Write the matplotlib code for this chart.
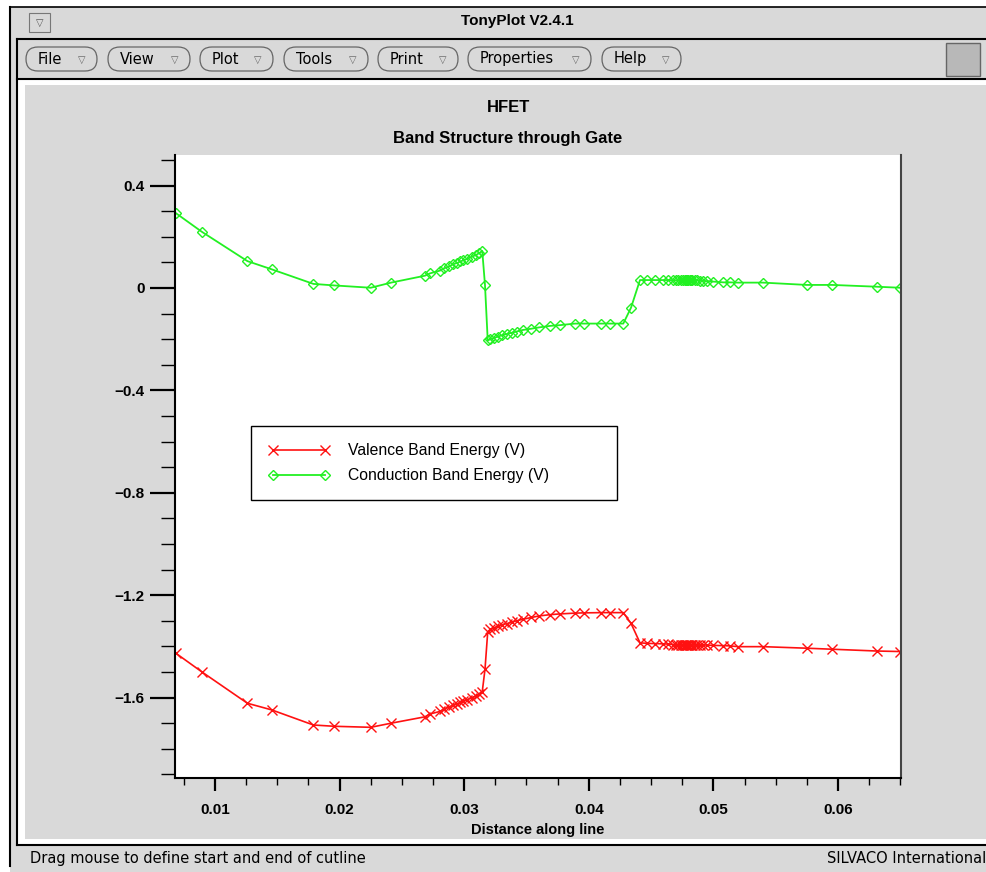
import matplotlib
matplotlib.use("Agg")
import matplotlib.pyplot as plt
from matplotlib.patches import Rectangle, FancyBboxPatch
from matplotlib.ticker import MultipleLocator

# distance along the cutline (same grid for both bands)
distance = [0.00687, 0.00893, 0.0126, 0.01455, 0.0179, 0.01957, 0.0225, 0.02413,
            0.02685, 0.02725, 0.02806, 0.02838, 0.0288, 0.02913, 0.02945, 0.0297,
            0.02993, 0.03025, 0.0306, 0.03095, 0.0312, 0.03145, 0.03167, 0.03189,
            0.0321, 0.0324, 0.0327, 0.0330, 0.0334, 0.0338, 0.0342, 0.0347,
            0.0354, 0.0360, 0.0369, 0.0377, 0.0389, 0.0396, 0.0410, 0.0417,
            0.04277, 0.04339, 0.04411, 0.04465, 0.04531, 0.04598, 0.04638,
            0.0468, 0.0470, 0.0472, 0.0474, 0.0476, 0.0477, 0.0478, 0.0479,
            0.0480, 0.0481, 0.0482, 0.0483, 0.0485, 0.0487, 0.0489, 0.0492,
            0.04946, 0.0500, 0.0508, 0.05133, 0.0520, 0.0540, 0.05749, 0.05954,
            0.06311, 0.06498]

conduction = [0.292, 0.220, 0.105, 0.073, 0.016, 0.010, 0.001, 0.021,
              0.048, 0.057, 0.068, 0.077, 0.085, 0.093, 0.098, 0.104,
              0.108, 0.114, 0.122, 0.129, 0.136, 0.145, 0.012, -0.205,
              -0.200, -0.195, -0.190, -0.185, -0.180, -0.175, -0.170, -0.164,
              -0.159, -0.154, -0.148, -0.145, -0.139, -0.139, -0.139, -0.139,
              -0.139, -0.077, 0.031, 0.031, 0.031, 0.031, 0.031,
              0.030, 0.030, 0.030, 0.030, 0.030, 0.030, 0.030, 0.030,
              0.030, 0.030, 0.030, 0.030, 0.030, 0.030, 0.029, 0.028,
              0.027, 0.025, 0.022, 0.022, 0.021, 0.021, 0.012, 0.012,
              0.005, 0.001]

valence = [-1.427, -1.499, -1.622, -1.648, -1.707, -1.712, -1.716, -1.700,
           -1.675, -1.664, -1.654, -1.645, -1.637, -1.629, -1.624, -1.618,
           -1.614, -1.608, -1.600, -1.593, -1.586, -1.577, -1.490, -1.343,
           -1.333, -1.327, -1.322, -1.317, -1.311, -1.306, -1.300, -1.294,
           -1.287, -1.281, -1.276, -1.273, -1.270, -1.269, -1.268, -1.268,
           -1.268, -1.310, -1.386, -1.388, -1.389, -1.390, -1.391,
           -1.393, -1.393, -1.393, -1.393, -1.393, -1.393, -1.393, -1.393,
           -1.393, -1.393, -1.393, -1.393, -1.393, -1.393, -1.394, -1.394,
           -1.395, -1.396, -1.397, -1.398, -1.401, -1.401, -1.407, -1.411,
           -1.418, -1.420]

x_ticks = [0.01, 0.02, 0.03, 0.04, 0.05, 0.06]
x_tick_labels = ["0.01", "0.02", "0.03", "0.04", "0.05", "0.06"]
y_ticks = [0.4, 0.0, -0.4, -0.8, -1.2, -1.6]
y_tick_labels = ["0.4", "0", "\u22120.4", "\u22120.8", "\u22121.2", "\u22121.6"]

menus = ["File", "View", "Plot", "Tools", "Print", "Properties", "Help"]
menu_x = [(26, 97), (108, 190), (200, 273), (284, 368), (378, 458), (468, 591), (602, 681)]

GRAY = "#d9d9d9"
W, H = 987, 872

fig = plt.figure(figsize=(W / 100, H / 100), dpi=100, facecolor="white")

# window chrome, drawn in pixel coordinates
bg = fig.add_axes([0, 0, 1, 1])
bg.set_xlim(0, W)
bg.set_ylim(H, 0)
bg.axis("off")

def box(x0, y0, x1, y1, **kw):
    bg.add_patch(Rectangle((x0, y0), x1 - x0, y1 - y0, **kw))

box(10, 7, W, H, fc=GRAY, ec="none")
bg.plot([10, 10], [7, 866], color="black", lw=1.5)
bg.plot([10, W], [7, 7], color="black", lw=1.2)
# title bar
box(29, 13, 50, 32, fc=GRAY, ec="#777777", lw=0.8)
bg.text(39.5, 22.5, "\u25bd", ha="center", va="center", fontsize=7, color="#555555",
        family="DejaVu Sans")
bg.text(517, 21, "TonyPlot V2.4.1", ha="center", va="center", fontsize=11,
        fontweight="bold", family="Liberation Sans")
# menu bar
bg.plot([17, W], [39, 39], color="black", lw=1.5)
bg.plot([17, 17], [39, 845], color="black", lw=1.5)
for name, (x0, x1) in zip(menus, menu_x):
    bg.add_patch(FancyBboxPatch((x0, 47), x1 - x0, 24,
                                boxstyle="round,pad=0,rounding_size=12",
                                fc=GRAY, ec="#666666", lw=0.9))
    bg.text(x0 + 12, 59, name, ha="left", va="center", fontsize=10.5,
            family="DejaVu Sans")
    bg.text(x1 - 15, 59.5, "\u25bd", ha="center", va="center", fontsize=7,
            color="#666666", family="DejaVu Sans")
box(946, 43, 980, 76, fc="#b8b8b8", ec="#666666", lw=1)
bg.plot([17, W], [79, 79], color="black", lw=1.5)
# main panel
box(18, 80, W, 844, fc="white", ec="none")
box(25, 85, W, 839, fc=GRAY, ec="none")
bg.plot([17, W], [845, 845], color="black", lw=1.5)
bg.text(30, 858, "Drag mouse to define start and end of cutline", ha="left",
        va="center", fontsize=10.5, family="DejaVu Sans")
bg.text(986, 858, "SILVACO International", ha="right", va="center",
        fontsize=10.5, family="DejaVu Sans")

bg.text(508, 107, "HFET", ha="center", va="center", fontsize=12,
        fontweight="bold", family="Liberation Sans")
bg.text(508, 139, "Band Structure through Gate", ha="center", va="center",
        fontsize=12, fontweight="bold", family="Liberation Sans")

# plot area
ax = fig.add_axes([175 / W, (H - 778) / H, 726 / W, 623 / H])
ax.set_facecolor("white")
ax.plot(distance, valence, color="#ff1111", lw=1.2, marker="x", ms=7, mew=1.0,
        label="Valence Band Energy (V)")
ax.plot(distance, conduction, color="#22f022", lw=1.3, marker="D", ms=5, mew=1.0,
        mfc="none", label="Conduction Band Energy (V)")

ax.set_xlim(0.00679, 0.06506)
ax.set_ylim(-1.914, 0.5195)

ax.set_xticks(x_ticks, labels=x_tick_labels)
ax.set_yticks(y_ticks, labels=y_tick_labels)
ax.xaxis.set_minor_locator(MultipleLocator(0.0025))
ax.yaxis.set_minor_locator(MultipleLocator(0.1))
ax.tick_params(axis="y", which="major", direction="out", length=18, width=1.6, pad=4)
ax.tick_params(axis="y", which="minor", direction="out", length=10, width=1.0)
ax.tick_params(axis="x", which="major", direction="out", length=9, width=1.6, pad=9)
ax.tick_params(axis="x", which="minor", direction="out", length=5, width=1.0)
for lab in ax.get_xticklabels() + ax.get_yticklabels():
    lab.set_fontweight("bold")
    lab.set_fontsize(11)
    lab.set_family(["Liberation Sans", "DejaVu Sans"])

ax.set_xlabel("Distance along line", fontsize=10.5, fontweight="bold",
              family="Liberation Sans", labelpad=4)

ax.spines["top"].set_visible(False)
ax.spines["left"].set_linewidth(1.5)
ax.spines["bottom"].set_linewidth(1.5)
ax.spines["right"].set_color("#444444")
ax.spines["right"].set_linewidth(1.5)

leg = ax.legend(loc="upper left", bbox_to_anchor=(0.1047, 0.451, 0.504, 0.114),
                mode="expand", borderaxespad=0, numpoints=2, handlelength=3.9,
                handletextpad=1.15, borderpad=1.1, labelspacing=0.62,
                fancybox=False, framealpha=1, edgecolor="black",
                prop={"family": "Liberation Sans", "size": 11.3})
leg.get_frame().set_linewidth(1.0)

fig.savefig("out.png", dpi=100, facecolor="white")
